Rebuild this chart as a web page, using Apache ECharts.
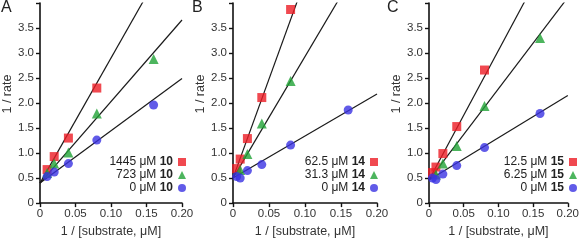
<!DOCTYPE html>
<html>
<head>
<meta charset="utf-8">
<script src="https://cdn.jsdelivr.net/npm/echarts@6/dist/echarts.min.js"></script>
<style>
  html, body { margin: 0; padding: 0; background: #fff; }
  #chart { width: 582px; height: 243px; }
</style>
</head>
<body>
<div id="chart"></div>
<script>
// 1 / [substrate] values used in every panel
var xs = [0.005, 0.01, 0.02, 0.04, 0.08, 0.16];

// panel A, inhibitor 10 (null = point not measured / not visible)
var aRed = [null, 0.67, 0.93, 1.30, 2.30, null];
var aGreen = [null, 0.60, 0.79, 1.01, 1.79, 2.88];
var aBlue = [null, 0.53, 0.62, 0.79, 1.26, 1.96];
// panel B, inhibitor 14
var bRed = [0.69, 0.88, 1.29, 2.11, 3.87, null];
var bGreen = [null, 0.66, 0.98, 1.59, 2.44, null];
var bBlue = [0.53, 0.50, 0.65, 0.77, 1.16, 1.86];
// panel C, inhibitor 15
var cRed = [0.61, 0.72, 0.99, 1.53, 2.66, null];
var cGreen = [null, 0.57, 0.79, 1.14, 1.94, 3.30];
var cBlue = [0.50, 0.47, 0.58, 0.75, 1.11, 1.79];

// fitted lines: y at x = 0 and at x = 0.2 (clipped by the grid)
var lineEnds = {
  A: [[0.40, 5.40], [0.40, 3.66], [0.40, 2.49]],
  B: [[0.50, 8.42], [0.50, 5.36], [0.50, 2.18]],
  C: [[0.46, 5.64], [0.46, 4.11], [0.46, 2.15]]
};

var legendNames = {
  A: ['1445 μM 10', '723 μM 10', '0 μM 10'],
  B: ['62.5 μM 14', '31.3 μM 14', '0 μM 14'],
  C: ['12.5 μM 15', '6.25 μM 15', '0 μM 15']
};

var panelLetters = ['A', 'B', 'C'];
var xTicks = [0, 0.05, 0.10, 0.15, 0.20];
var yTicks = [0, 0.5, 1.0, 1.5, 2.0, 2.5, 3.0, 3.5];

var colors = ['#ec1c24', '#21a236', '#3a32e2'];
var symbols = ['rect', 'triangle', 'circle'];

var grids = [
  { left: 40, right: 400, top: 3, bottom: 34 },
  { left: 233, right: 205, top: 3, bottom: 34 },
  { left: 429, right: 10, top: 3, bottom: 34 }
];
var legendRight = [396, 204, 5];
var letterLeft = [1, 192, 387];

var panelData = [[aRed, aGreen, aBlue], [bRed, bGreen, bBlue], [cRed, cGreen, cBlue]];

function pts(vals) {
  var out = [];
  for (var i = 0; i < xs.length; i++) {
    if (vals[i] !== null) out.push([xs[i], vals[i]]);
  }
  return out;
}

var textColor = '#333';
var font = 'Liberation Sans, Arial, sans-serif';

var option = {
  animation: false,
  backgroundColor: '#fff',
  textStyle: { fontFamily: font },
  title: [],
  legend: [],
  grid: grids,
  xAxis: [],
  yAxis: [],
  series: []
};

panelLetters.forEach(function (p, k) {
  option.title.push({
    text: p, left: letterLeft[k], top: 0, padding: 0,
    textStyle: { fontSize: 16, fontWeight: 'normal', color: '#222', fontFamily: font }
  });
  option.xAxis.push({
    gridIndex: k, type: 'value', min: 0, max: 0.2, interval: 0.05,
    name: '1 / [substrate, μM]', nameLocation: 'middle', nameGap: 20,
    nameTextStyle: { fontSize: 12.5, color: textColor, fontFamily: font },
    axisLine: { lineStyle: { color: '#111', width: 1.6 } },
    axisTick: { show: true, length: 4, inside: false, lineStyle: { color: '#111', width: 1.4 } },
    axisLabel: {
      fontSize: 11.5, color: textColor, margin: 5, fontFamily: font,
      formatter: function (v) { return v === 0 ? '0' : v.toFixed(2); }
    },
    splitLine: { show: false }
  });
  option.yAxis.push({
    gridIndex: k, type: 'value', min: 0, max: 4, interval: 0.5,
    name: '1 / rate', nameLocation: 'middle', nameGap: 25,
    nameTextStyle: { fontSize: 12.5, color: textColor, fontFamily: font, padding: [0, 0, 0, 18] },
    axisLine: { lineStyle: { color: '#111', width: 1.6 } },
    axisTick: { show: true, length: 4, inside: false, lineStyle: { color: '#111', width: 1.4 } },
    axisLabel: {
      fontSize: 11.5, color: textColor, margin: 6, fontFamily: font,
      formatter: function (v) {
        if (yTicks.indexOf(v) < 0) return '';
        return v === 0 ? '0' : v.toFixed(1);
      }
    },
    splitLine: { show: false }
  });
  option.legend.push({
    data: legendNames[p],
    orient: 'vertical',
    right: legendRight[k],
    top: 156,
    align: 'right',
    itemWidth: 8,
    itemHeight: 8,
    itemGap: 1,
    padding: 0,
    textStyle: {
      fontSize: 12, color: '#222', fontFamily: font,
      rich: {
        n: { fontSize: 12, color: '#222', fontFamily: font },
        b: { fontSize: 12, color: '#222', fontWeight: 'bold', fontFamily: font }
      }
    },
    formatter: function (name) {
      var i = name.lastIndexOf(' ');
      return '{n|' + name.slice(0, i + 1) + '}{b|' + name.slice(i + 1) + '}';
    }
  });
  // fitted lines first, points on top
  lineEnds[p].forEach(function (e) {
    option.series.push({
      type: 'line', xAxisIndex: k, yAxisIndex: k, silent: true,
      data: [[0, e[0]], [0.2, e[1]]],
      symbol: 'none', clip: true,
      lineStyle: { color: '#1a1a1a', width: 1.2 },
      z: 2
    });
  });
  panelData[k].forEach(function (vals, s) {
    option.series.push({
      name: legendNames[p][s],
      type: 'scatter', xAxisIndex: k, yAxisIndex: k,
      data: pts(vals),
      symbol: symbols[s],
      symbolSize: s === 1 ? 10 : 9,
      itemStyle: { color: colors[s] },
      z: 3
    });
  });
});

var chart = echarts.init(document.getElementById('chart'), null, { renderer: 'canvas' });
chart.setOption(option);
</script>
</body>
</html>
